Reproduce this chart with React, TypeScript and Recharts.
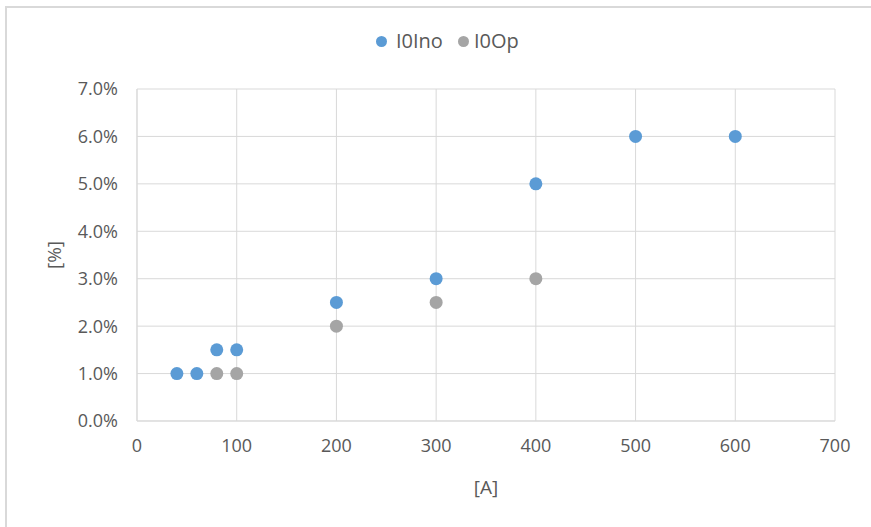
import { ScatterChart, Scatter, XAxis, YAxis, CartesianGrid } from 'recharts';

const inoCurrent = [40, 60, 80, 100, 200, 300, 400, 500, 600];
const inoPercent = [0.01, 0.01, 0.015, 0.015, 0.025, 0.03, 0.05, 0.06, 0.06];
const opCurrent = [80, 100, 200, 300, 400];
const opPercent = [0.01, 0.01, 0.02, 0.025, 0.03];
const xTicks = [0, 100, 200, 300, 400, 500, 600, 700];
const yTicks = [0, 0.01, 0.02, 0.03, 0.04, 0.05, 0.06, 0.07];

const inoData = inoCurrent.map((a, i) => ({ a, p: inoPercent[i] }));
const opData = opCurrent.map((a, i) => ({ a, p: opPercent[i] }));

const FONT = '"Open Sans", sans-serif';
const GRID = '#d9d9d9';
const TEXT = '#595959';
const BLUE = '#5b9bd5';
const GRAY = '#a5a5a5';

// excel-ish round markers
const Dot = (props: any) => <circle cx={props.cx} cy={props.cy} r={6.5} fill={props.fill} />;

function LegendBox() {
    const marker = (color: string) => (
        <svg width={11} height={11}>
            <circle cx={5.5} cy={5.5} r={5.5} fill={color} />
        </svg>
    );
    return (
        <div
            style={{
                position: 'absolute',
                left: 376,
                top: 31,
                display: 'flex',
                alignItems: 'center',
                fontFamily: FONT,
                fontSize: 20,
                lineHeight: '20px',
                color: TEXT,
            }}
        >
            {marker(BLUE)}
            <span style={{ marginLeft: 9, marginRight: 15 }}>I0Ino</span>
            {marker(GRAY)}
            <span style={{ marginLeft: 5 }}>I0Op</span>
        </div>
    );
}

export default function App() {
    return (
        <div style={{ position: 'absolute', left: 0, top: 0, width: 871, height: 527, overflow: 'hidden', background: '#fff' }}>
            <div style={{ position: 'absolute', left: 5, top: 6, width: 900, height: 600, border: `2px solid ${GRID}` }} />
            <div style={{ position: 'absolute', left: 0, top: 0 }}>
                <ScatterChart width={871} height={527} margin={{ top: 89, right: 36, bottom: 0, left: 0 }}>
                    <CartesianGrid stroke={GRID} />
                    <XAxis
                        type="number"
                        dataKey="a"
                        domain={[0, 700]}
                        ticks={xTicks}
                        height={106}
                        tickLine={false}
                        tickSize={0}
                        tickMargin={18}
                        axisLine={{ stroke: GRID }}
                        tick={{ fill: TEXT, fontSize: 18, fontFamily: FONT }}
                        label={{ value: '[A]', position: 'center', dy: 13, fill: TEXT, fontSize: 19, fontFamily: FONT }}
                    />
                    <YAxis
                        type="number"
                        dataKey="p"
                        domain={[0, 0.07]}
                        ticks={yTicks}
                        width={137}
                        tickLine={false}
                        tickSize={0}
                        tickMargin={19}
                        axisLine={{ stroke: GRID }}
                        tickFormatter={(v: number) => `${(v * 100).toFixed(1)}%`}
                        tick={{ fill: TEXT, fontSize: 18, fontFamily: FONT }}
                        label={{ value: '[%]', angle: -90, position: 'center', dx: -14, fill: TEXT, fontSize: 19, fontFamily: FONT }}
                    />
                    <Scatter name="I0Ino" data={inoData} fill={BLUE} shape={Dot} isAnimationActive={false} />
                    <Scatter name="I0Op" data={opData} fill={GRAY} shape={Dot} isAnimationActive={false} />
                </ScatterChart>
            </div>
            <LegendBox />
        </div>
    );
}
